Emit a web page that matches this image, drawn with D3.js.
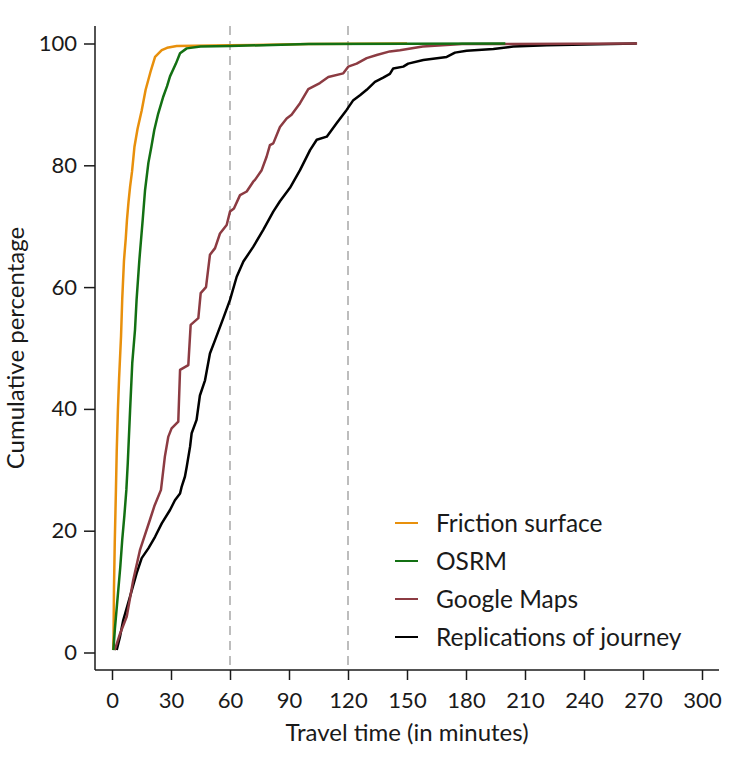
<!DOCTYPE html>
<html>
<head>
<meta charset="utf-8">
<script src="https://cdn.jsdelivr.net/npm/d3@7"></script>
<style>
  body { margin: 0; background: #fff; }
  text { font-family: Lato, "Open Sans", sans-serif; fill: #1a1a1a; }
</style>
</head>
<body>
<div id="chart"></div>
<script>
// tick labels
var xTicks = [0, 30, 60, 90, 120, 150, 180, 210, 240, 270, 300];
var yTicks = [0, 20, 40, 60, 80, 100];
var refLines = [60, 120];

// series names, in legend order
var seriesNames = ["Friction surface", "OSRM", "Google Maps", "Replications of journey"];

// [minutes, cumulative %]
var friction = [[0.6,0.4],[0.8,3],[1,10.3],[1.4,18],[2,26.7],[2.4,33],[3,39.8],[3.6,45],[4.6,52],[5.2,58],
  [6.1,64.4],[7,68],[7.6,71],[8.4,74],[9.2,76.5],[10.2,79],[11.4,83],[13,86],[15.1,89],[17.1,92.4],
  [19.8,95.6],[21.9,97.8],[25.3,98.9],[28,99.3],[32.9,99.6],[60,99.7],[100,99.9],[150,100]];
var osrm = [[0.7,0.4],[1.5,4],[3.2,10.3],[4.2,14],[5.2,18.5],[6.3,22.5],[7.3,26.7],[8,31],[9.2,39.8],
  [10.3,47.5],[11.7,53],[12.5,57.9],[13.9,64.4],[15.6,71],[16.8,75.9],[18.5,80.4],[20,83],[21.5,85.8],
  [23.5,88.5],[26.1,91.3],[28,93],[29.5,94.6],[32.5,96.7],[34.6,98.4],[38,99.2],[45,99.5],[60,99.6],
  [100,99.9],[200,100]];
var google = [[1.4,0.4],[4,3],[7.5,5.9],[10.8,11.9],[14.2,16.8],[19.3,21.8],[21.5,24],[24.9,26.7],
  [26.9,32.2],[28.6,35.4],[30.3,36.8],[33.7,37.9],[34.6,46.4],[38.8,47.2],[40,53.8],[43.9,54.9],
  [45.1,59],[47.8,60],[49.8,65.3],[52.4,66.4],[54.9,68.8],[58.3,70.2],[60,72.4],[62,72.9],[65.1,75.1],
  [68.5,75.7],[71.8,77.3],[72.7,77.6],[76.1,79.2],[78.6,81.4],[80.3,83.3],[82,83.6],[85.4,86.3],
  [88.8,87.7],[91.3,88.3],[95.6,90.2],[99.8,92.5],[105.7,93.5],[110,94.5],[117.6,95.1],[120.1,96.2],
  [124.4,96.7],[129.5,97.6],[134.6,98.1],[141.3,98.7],[146.4,98.9],[158,99.5],[178,99.9],[267,100]];
var replications = [[2.4,0.4],[4,2.5],[5.7,5.3],[9.2,9.2],[12.5,13],[15.1,15.5],[18.5,17.1],[21.9,19],
  [25.3,21.2],[29.5,23.4],[32,25],[34.6,26.1],[35.4,27.2],[37.1,28.9],[38,30.5],[39.7,33.8],[40.5,36],
  [43,38.2],[44.7,42.2],[47.3,44.7],[49.8,49.1],[52.4,51.3],[56.6,54.9],[60,57.9],[63.4,61.7],
  [66.8,64.2],[71.8,66.6],[76.9,69.4],[82,72.4],[85.4,74.1],[90.5,76.3],[95.6,79.2],[100.7,82.5],
  [104.1,84.2],[109.2,84.7],[114.2,86.9],[119.3,89.1],[122.7,90.7],[126.1,91.5],[129.5,92.4],
  [133.7,93.7],[137.9,94.4],[141.3,95],[143,95.9],[148.1,96.2],[150.6,96.7],[158.3,97.3],[170.2,97.8],
  [174.4,98.5],[180.3,98.8],[193.9,99.1],[204,99.5],[221,99.7],[266.8,100]];

var colors = ["#e8900c", "#137013", "#8c3b42", "#000000"];
var allSeries = [friction, osrm, google, replications];
// draw order: black first, then red, orange, green on top
var drawOrder = [3, 2, 0, 1];

var width = 746, height = 778;

var x = d3.scaleLinear().domain([0, 300]).range([112, 702]);
var y = d3.scaleLinear().domain([0, 100]).range([652.5, 43.5]);

var axisX = 95, axisY = 670;

var svg = d3.select("#chart").append("svg")
    .attr("width", width)
    .attr("height", height);

// dashed reference lines
svg.selectAll(".ref")
    .data(refLines)
  .enter().append("line")
    .attr("class", "ref")
    .attr("x1", function(d) { return x(d); })
    .attr("x2", function(d) { return x(d); })
    .attr("y1", 26)
    .attr("y2", axisY)
    .attr("stroke", "#bdbdbd")
    .attr("stroke-width", 2)
    .attr("stroke-dasharray", "9,6");

// the curves
var line = d3.line()
    .x(function(d) { return x(d[0]); })
    .y(function(d) { return y(d[1]); });

drawOrder.forEach(function(i) {
  svg.append("path")
    .datum(allSeries[i])
    .attr("fill", "none")
    .attr("stroke", colors[i])
    .attr("stroke-width", 2.5)
    .attr("stroke-linejoin", "round")
    .attr("d", line);
});

// x axis
var gx = svg.append("g")
    .attr("transform", "translate(0," + axisY + ")")
    .call(d3.axisBottom(x).tickValues(xTicks).tickSize(10).tickSizeOuter(0).tickPadding(12));
gx.select(".domain").remove();
gx.selectAll(".tick line").attr("stroke", "#1a1a1a").attr("stroke-width", 1.5);
gx.selectAll(".tick text").attr("font-size", 22).style("font-family", "Lato");
gx.append("line")
    .attr("x1", axisX).attr("x2", 719)
    .attr("stroke", "#1a1a1a").attr("stroke-width", 1.5);

// y axis
var gy = svg.append("g")
    .attr("transform", "translate(" + axisX + ",0)")
    .call(d3.axisLeft(y).tickValues(yTicks).tickSize(11).tickSizeOuter(0).tickPadding(7));
gy.select(".domain").remove();
gy.selectAll(".tick line").attr("stroke", "#1a1a1a").attr("stroke-width", 1.5);
gy.selectAll(".tick text").attr("font-size", 22).style("font-family", "Lato");
gy.append("line")
    .attr("y1", 26).attr("y2", axisY)
    .attr("stroke", "#1a1a1a").attr("stroke-width", 1.5);

// axis titles
svg.append("text")
    .attr("x", 407)
    .attr("y", 741)
    .attr("text-anchor", "middle")
    .attr("font-size", 24)
    .text("Travel time (in minutes)");

svg.append("text")
    .attr("transform", "translate(24,348) rotate(-90)")
    .attr("text-anchor", "middle")
    .attr("font-size", 24)
    .text("Cumulative percentage");

// legend
var legend = svg.append("g").attr("transform", "translate(395,523)");
seriesNames.forEach(function(name, i) {
  var row = legend.append("g").attr("transform", "translate(0," + (i * 38) + ")");
  row.append("line")
    .attr("x1", 0).attr("x2", 23)
    .attr("stroke", colors[i])
    .attr("stroke-width", 2);
  row.append("text")
    .attr("x", 41)
    .attr("dy", "0.35em")
    .attr("font-size", 24.5)
    .text(name);
});
</script>
</body>
</html>
